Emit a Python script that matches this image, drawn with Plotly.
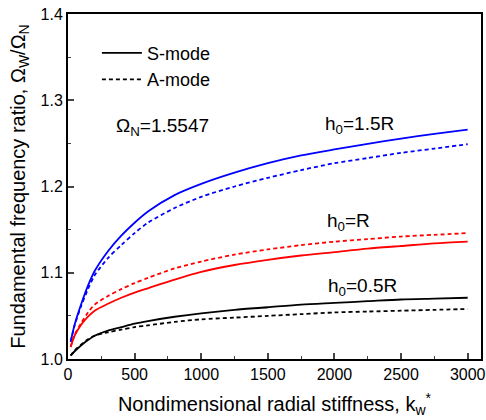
import plotly.graph_objects as go

k = [20, 50, 100, 150, 200, 300, 400, 500, 600, 800, 1000, 1250, 1500, 1750, 2000, 2250, 2500, 2750, 3000]

blue_S = [1.020, 1.040, 1.064, 1.085, 1.102, 1.125, 1.143, 1.158, 1.171, 1.190, 1.203, 1.216, 1.227, 1.236, 1.243, 1.2495, 1.2555, 1.261, 1.266]
blue_A = [1.020, 1.039, 1.062, 1.081, 1.097, 1.117, 1.132, 1.146, 1.158, 1.175, 1.188, 1.200, 1.210, 1.219, 1.227, 1.233, 1.239, 1.244, 1.249]
red_S = [1.014, 1.027, 1.040, 1.049, 1.056, 1.064, 1.071, 1.077, 1.082, 1.092, 1.101, 1.109, 1.115, 1.120, 1.124, 1.128, 1.131, 1.134, 1.136]
red_A = [1.014, 1.028, 1.042, 1.054, 1.063, 1.073, 1.081, 1.088, 1.094, 1.105, 1.113, 1.121, 1.127, 1.132, 1.136, 1.139, 1.142, 1.144, 1.146]
black_S = [1.004, 1.009, 1.016, 1.022, 1.027, 1.033, 1.037, 1.041, 1.044, 1.049, 1.053, 1.057, 1.060, 1.063, 1.065, 1.067, 1.069, 1.070, 1.071]
black_A = [1.004, 1.010, 1.017, 1.023, 1.027, 1.031, 1.034, 1.037, 1.039, 1.043, 1.046, 1.048, 1.050, 1.052, 1.054, 1.055, 1.056, 1.057, 1.058]

x_ticks = [0, 500, 1000, 1500, 2000, 2500, 3000]
y_ticks = [1.0, 1.1, 1.2, 1.3, 1.4]

FONT = "Liberation Sans, Arial, sans-serif"
DASH = "4px,3px"
LW = 1.8

fig = go.Figure()

series = [
    (blue_S, "blue", "solid"), (blue_A, "blue", DASH),
    (red_S, "red", "solid"), (red_A, "red", DASH),
    (black_S, "black", "solid"), (black_A, "black", DASH),
]
for ys, c, d in series:
    fig.add_trace(go.Scatter(x=k, y=ys, mode="lines",
                             line=dict(color=c, width=LW, dash=d, shape="spline", smoothing=0.8),
                             showlegend=False, hoverinfo="skip"))

fig.add_trace(go.Scatter(x=[None], y=[None], mode="lines", name="S-mode",
                         line=dict(color="black", width=LW)))
fig.add_trace(go.Scatter(x=[None], y=[None], mode="lines", name="A-mode",
                         line=dict(color="black", width=LW, dash=DASH)))

fig.update_layout(
    width=486, height=420,
    margin=dict(l=68, r=5, t=14, b=61),
    plot_bgcolor="white", paper_bgcolor="white",
    font=dict(family=FONT, size=16, color="black"),
    legend=dict(x=0.07, y=0.94, xanchor="left", yanchor="top", bgcolor="rgba(0,0,0,0)",
                font=dict(size=18), tracegroupgap=0, itemwidth=40),
    xaxis=dict(range=[0, 3100], tickvals=x_ticks, ticks="inside", ticklen=6, tickwidth=1.5,
               showline=True, linewidth=2, linecolor="black", mirror=True, showgrid=False, zeroline=False,
               minor=dict(dtick=250, tick0=0, ticks="inside", ticklen=3, tickwidth=1.2),
               tickfont=dict(size=16), automargin=False,
               title=dict(text="Nondimensional radial stiffness, k<sub>w</sub><sup>*</sup>", font=dict(size=20), standoff=15)),
    yaxis=dict(range=[1.0, 1.4], tickvals=y_ticks, tickformat=".1f", ticks="inside", ticklen=6, tickwidth=1.5,
               showline=True, linewidth=2, linecolor="black", mirror=True, showgrid=False, zeroline=False,
               minor=dict(dtick=0.05, tick0=1.0, ticks="inside", ticklen=3, tickwidth=1.2),
               tickfont=dict(size=16), automargin=False,
               title=dict(text="Fundamental frequency ratio, Ω<sub>W</sub>/Ω<sub>N</sub>", font=dict(size=20), standoff=10)),
)

anns = [
    ("Ω<sub>N</sub>=1.5547", 114, 127),
    ("h<sub>0</sub>=1.5R", 323, 125),
    ("h<sub>0</sub>=R", 325, 222),
    ("h<sub>0</sub>=0.5R", 326, 287),
]
for t, px, py in anns:
    fig.add_annotation(text=t, xref="paper", yref="paper",
                       x=(px - 68) / 413, y=1 - (py - 14) / 345,
                       xanchor="left", yanchor="middle", showarrow=False, font=dict(size=19))

fig.write_html("out.html", config={"displayModeBar": False},
               post_script="document.body.style.margin='0';document.body.style.overflow='hidden';")
